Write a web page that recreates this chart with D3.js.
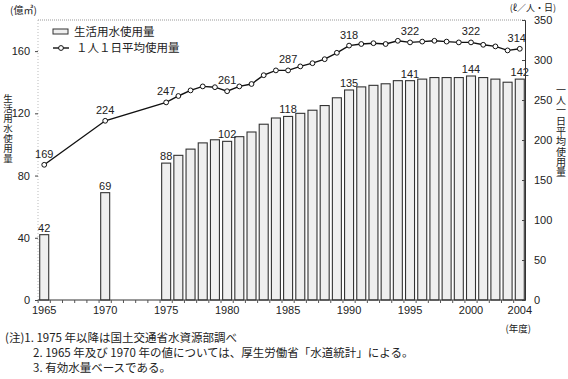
<!DOCTYPE html>
<html><head><meta charset="utf-8">
<script src="https://cdn.jsdelivr.net/npm/d3@7"></script>
<style>
body{margin:0;background:#fff;}
svg{display:block;}
text{font-family:"Liberation Sans",Arial,sans-serif;fill:#222;}
.jp{font-family:"Noto Sans CJK JP",sans-serif;}
.vt{writing-mode:vertical-rl;text-orientation:upright;}
</style></head>
<body><svg id="c" width="568" height="379"></svg>
<script>
const years = d3.range(1965, 2005).map(String);
const barYears = ["1965","1970"].concat(d3.range(1975, 2005).map(String));
const usage = [42,69,88,93,97,101,103,102,105,108,113,117,118,120,122,125,130,135,137,138,139,141,141,142,143,143,143,144,143,142,140,142];
const perCapita = [169,224,247,255,262,267,266,261,267,270,281,287,287,292,296,301,309,318,320,321,320,324,322,323,324,323,322,322,319,317,312,314];
const barLabelYears = ["1965","1970","1975","1980","1985","1990","1995","2000","2004"];
const lineLabelYears = ["1965","1970","1975","1980","1985","1990","1995","2000","2004"];
const xTickLabels = ["1965","1970","1975","1980","1985","1990","1995","2000","2004"];
const leftTicks = [0,40,80,120,160];
const rightTicks = [0,50,100,150,200,250,300,350];
const notes = ["(注)1. 1975 年以降は国土交通省水資源部調べ","2. 1965 年及び 1970 年の値については、厚生労働省「水道統計」による。","3. 有効水量ベースである。"];

const svg = d3.select("#c");
const L = 38, R = 525, T = 20, B = 300;
const x = d3.scaleBand().domain(years).range([L, R+1]).paddingInner(0.18).paddingOuter(0.1);
const yL = d3.scaleLinear().domain([0,180]).range([B, T]);
const yR = d3.scaleLinear().domain([0,350]).range([B, T]);

// frame
svg.append("line").attr("x1",L).attr("x2",R).attr("y1",T).attr("y2",T).attr("stroke","#999").attr("stroke-dasharray","1,1");
svg.append("line").attr("x1",L).attr("x2",L).attr("y1",T).attr("y2",B).attr("stroke","#bbb").attr("stroke-dasharray","1,2");

// bars
const bd = barYears.map((y,i)=>({y, v:usage[i]}));
svg.append("g").selectAll("rect").data(bd).join("rect")
  .attr("x", d=>x(d.y)+0.5).attr("width", x.bandwidth()-1)
  .attr("y", d=>yL(d.v)).attr("height", d=>B-yL(d.v))
  .attr("fill","#efefef").attr("stroke","#333").attr("stroke-width",1.1);
svg.append("g").selectAll("text").data(bd.filter(d=>barLabelYears.includes(d.y))).join("text")
  .attr("x", d=>x(d.y)+x.bandwidth()/2).attr("y", d=>yL(d.v)-3)
  .attr("text-anchor","middle").attr("font-size",11).text(d=>d.v);

// axes
const axL = d3.axisLeft(yL).tickValues(leftTicks).tickSize(3).tickPadding(5);
const gL = svg.append("g").attr("transform",`translate(${L},0)`).call(axL);
gL.select(".domain").remove();
gL.selectAll("line").attr("stroke","#444");
gL.selectAll("text").attr("font-size",11).attr("font-family","Liberation Sans, Arial, sans-serif").attr("fill","#333");

const axR = d3.axisRight(yR).tickValues(rightTicks).tickSize(-3).tickPadding(9);
const gR = svg.append("g").attr("transform",`translate(${R},0)`).call(axR);
gR.select(".domain").attr("stroke","#333");
gR.selectAll("line").attr("stroke","#444");
gR.selectAll("text").attr("font-size",11).attr("font-family","Liberation Sans, Arial, sans-serif").attr("fill","#333");

const axB = d3.axisBottom(x).tickValues(xTickLabels).tickSize(0).tickPadding(6);
const gB = svg.append("g").attr("transform",`translate(0,${B})`).call(axB);
gB.select(".domain").attr("d",`M${L},0H${R}`).attr("stroke","#333");
gB.selectAll("text").attr("font-size",11).attr("font-family","Liberation Sans, Arial, sans-serif").attr("fill","#333");
// small ticks between bars
svg.append("g").selectAll("line").data(years).join("line")
  .attr("x1", d=>x(d)-x.step()*0.09).attr("x2", d=>x(d)-x.step()*0.09)
  .attr("y1", B).attr("y2", B+3).attr("stroke","#555");

// line
const ld = barYears.map((y,i)=>({y, v:perCapita[i]}));
const line = d3.line().x(d=>x(d.y)+x.bandwidth()/2).y(d=>yR(d.v));
svg.append("path").datum(ld).attr("d",line).attr("fill","none").attr("stroke","#111").attr("stroke-width",1.4);
svg.append("g").selectAll("circle").data(ld).join("circle")
  .attr("cx", d=>x(d.y)+x.bandwidth()/2).attr("cy", d=>yR(d.v)).attr("r",2.4)
  .attr("fill","#fff").attr("stroke","#111").attr("stroke-width",1);
svg.append("g").selectAll("text").data(ld.filter(d=>lineLabelYears.includes(d.y))).join("text")
  .attr("x", d=>x(d.y)+x.bandwidth()/2 + (d.y==="2004"?-3:0)).attr("y", d=>yR(d.v)-7)
  .attr("text-anchor","middle").attr("font-size",11).text(d=>d.v);

// units
svg.append("text").attr("class","jp").attr("x",10).attr("y",14).attr("font-size",10).attr("fill","#333").text("(億㎥)");
svg.append("text").attr("class","jp").attr("x",556).attr("y",11).attr("text-anchor","end").attr("font-size",9).attr("fill","#333").text("(ℓ／人・日)");
svg.append("text").attr("class","jp").attr("x",531).attr("y",332).attr("text-anchor","end").attr("font-size",9.5).attr("fill","#333").text("(年度)");

// vertical titles
svg.append("text").attr("class","jp vt").attr("x",8).attr("y",94)
  .attr("font-size",9.5).attr("letter-spacing",0.5).text("生活用水使用量");
svg.append("text").attr("class","jp vt").attr("x",561).attr("y",85)
  .attr("font-size",10).attr("letter-spacing",0.3).text("一人一日平均使用量");

// legend
svg.append("rect").attr("x",53).attr("y",29).attr("width",15).attr("height",5).attr("fill","#efefef").attr("stroke","#333");
svg.append("text").attr("class","jp").attr("x",74).attr("y",36).attr("font-size",11.5).text("生活用水使用量");
svg.append("line").attr("x1",53).attr("x2",69).attr("y1",48).attr("y2",48).attr("stroke","#111").attr("stroke-width",1.4);
svg.append("circle").attr("cx",61).attr("cy",48).attr("r",2.4).attr("fill","#fff").attr("stroke","#111");
svg.append("text").attr("class","jp").attr("x",76).attr("y",52).attr("font-size",11.5).text("１人１日平均使用量");

// notes
const nx = [5,33,33], ny = [342,357,372];
svg.append("g").selectAll("text").data(notes).join("text").attr("class","jp")
  .attr("x",(d,i)=>nx[i]).attr("y",(d,i)=>ny[i]).attr("font-size",11.5).attr("fill","#111").text(d=>d);
</script></body></html>
